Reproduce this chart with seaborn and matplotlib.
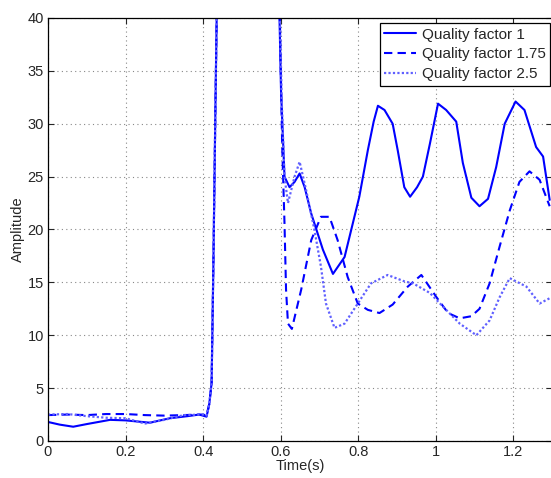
"""Amplitude response for three quality factors (MATLAB-style line chart)."""

import matplotlib

matplotlib.use("Agg")
import matplotlib.pyplot as plt
import pandas as pd
import seaborn as sns

# Quality factor 1 (solid)
t_q1 = [0, 0.03, 0.065, 0.1, 0.16, 0.2, 0.263, 0.314, 0.36, 0.39, 0.409,
        0.416, 0.422, 0.4265, 0.432, 0.437, 0.45, 0.58, 0.596, 0.601, 0.610,
        0.623, 0.636, 0.649, 0.662, 0.679, 0.709, 0.735, 0.765, 0.803,
        0.825, 0.840, 0.851, 0.868, 0.889, 0.902, 0.919, 0.934, 0.952,
        0.967, 0.985, 1.006, 1.027, 1.053, 1.070, 1.092, 1.113, 1.135,
        1.156, 1.178, 1.206, 1.229, 1.259, 1.277, 1.294]
amp_q1 = [1.8, 1.55, 1.35, 1.6, 2.0, 1.95, 1.73, 2.15, 2.35, 2.5, 2.3,
          3.5, 5.5, 16.5, 32, 45, 60, 60, 42, 33.2, 25.0,
          24.0, 24.5, 25.3, 24.0, 21.5, 18.1, 15.8, 17.4, 23.1,
          27.5, 30.2, 31.7, 31.3, 30.0, 27.5, 24.0, 23.1, 24.0,
          25.0, 28.1, 31.9, 31.3, 30.2, 26.3, 23.0, 22.2, 22.9,
          25.9, 30.0, 32.1, 31.3, 27.8, 26.9, 22.8]

# Quality factor 1.75 (dashed)
t_q175 = [0, 0.05, 0.1, 0.15, 0.2, 0.25, 0.3, 0.35, 0.4, 0.409, 0.416,
          0.422, 0.4265, 0.432, 0.437, 0.45, 0.58, 0.598, 0.604, 0.610,
          0.614, 0.619, 0.629, 0.653, 0.679, 0.704, 0.726, 0.747, 0.773,
          0.799, 0.825, 0.855, 0.889, 0.928, 0.963, 1.002, 1.032, 1.062,
          1.092, 1.113, 1.139, 1.165, 1.191, 1.216, 1.242, 1.268, 1.294]
amp_q175 = [2.45, 2.5, 2.45, 2.55, 2.55, 2.45, 2.4, 2.45, 2.5, 2.4, 3.5,
            5.5, 16.5, 32, 45, 60, 60, 40, 28, 20.6,
            14.3, 11.1, 10.6, 14.3, 19.0, 21.2, 21.2, 19.0, 15.5,
            13.0, 12.4, 12.1, 12.9, 14.6, 15.7, 13.6, 12.1, 11.6,
            11.8, 12.5, 14.9, 18.4, 21.8, 24.5, 25.5, 24.7, 22.2]

# Quality factor 2.5 (dotted)
t_q25 = [0, 0.05, 0.1, 0.15, 0.2, 0.25, 0.3, 0.35, 0.4, 0.409, 0.416,
         0.422, 0.4265, 0.432, 0.437, 0.45, 0.58, 0.597, 0.603, 0.610,
         0.619, 0.636, 0.649, 0.666, 0.687, 0.704, 0.717, 0.739, 0.765,
         0.799, 0.833, 0.876, 0.919, 0.942, 0.985, 1.019, 1.062, 1.105,
         1.139, 1.165, 1.191, 1.234, 1.268, 1.294]
amp_q25 = [2.5, 2.55, 2.35, 2.2, 2.15, 1.65, 2.0, 2.45, 2.5, 2.4, 3.5,
           5.5, 16.5, 32, 45, 60, 60, 42, 32, 25,
           22.5, 25.0, 26.4, 23.7, 20.0, 16.5, 13.0, 10.7, 11.1,
           13.0, 14.9, 15.7, 15.1, 14.9, 14.0, 12.7, 11.1, 10.0,
           11.4, 13.6, 15.4, 14.6, 13.0, 13.5]

labels = ["Quality factor 1", "Quality factor 1.75", "Quality factor 2.5"]
x_ticks = [0, 0.2, 0.4, 0.6, 0.8, 1, 1.2]
x_tick_labels = ["0", "0.2", "0.4", "0.6", "0.8", "1", "1.2"]
y_ticks = [0, 5, 10, 15, 20, 25, 30, 35, 40]

sns.set_style("ticks")
plt.rcParams["font.family"] = ["Liberation Sans", "DejaVu Sans"]

fig = plt.figure(figsize=(5.51, 4.78), dpi=100)
# axes run from x=0 at px 48 to x=1.3 just past the right edge of the image
ax = fig.add_axes([48 / 551, 37 / 478, 504 / 551, 423 / 478])

series = [
    (t_q1, amp_q1, "-", "#0000ff", 1.5),
    (t_q175, amp_q175, (0, (4, 2.5)), "#0000ff", 1.5),
    (t_q25, amp_q25, (0, (1, 1)), "#6060ff", 1.6),
]
for (t, a, ls, col, lw), lab in zip(series, labels):
    df = pd.DataFrame({"t": t, "amp": a})
    sns.lineplot(data=df, x="t", y="amp", ax=ax, color=col, linestyle=ls,
                 linewidth=lw, label=lab, sort=False, estimator=None)

ax.set_xlim(0, 1.3)
ax.set_ylim(0, 40)
ax.set_xticks(x_ticks)
ax.set_xticklabels(x_tick_labels)
ax.set_yticks(y_ticks)
ax.grid(True, color="#888888", linestyle=(0, (1, 3)), linewidth=0.8)
ax.tick_params(direction="in", top=True, right=True, labelsize=10.5,
               length=4, width=0.8, pad=3)
for sp in ax.spines.values():
    sp.set_visible(True)
    sp.set_color("black")
    sp.set_linewidth(0.9)

ax.set_xlabel("Time(s)", fontsize=10.5, labelpad=0)
ax.set_ylabel("Amplitude", fontsize=10.5, labelpad=2)

leg = ax.legend(loc="upper right", bbox_to_anchor=(0.996, 0.988),
                fontsize=11, frameon=True, fancybox=False, borderaxespad=0,
                handlelength=2.1, handletextpad=0.33, labelspacing=0.38,
                borderpad=0.3)
leg.get_frame().set_edgecolor("black")
leg.get_frame().set_linewidth(0.9)
leg.get_frame().set_alpha(1)

fig.savefig("out.png", dpi=100)
